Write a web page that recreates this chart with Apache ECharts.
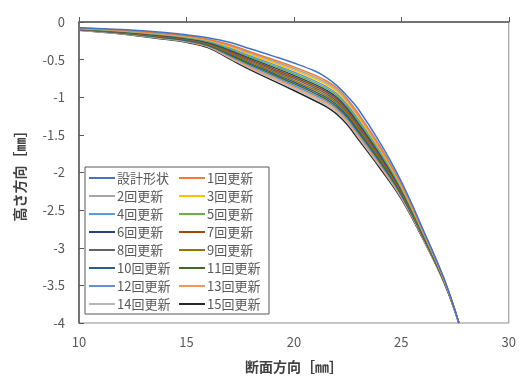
<!DOCTYPE html>
<html>
<head>
<meta charset="utf-8">
<script src="https://cdn.jsdelivr.net/npm/echarts@6/dist/echarts.min.js"></script>
<style>
  html, body { margin: 0; padding: 0; background: #fff; }
  #main { width: 519px; height: 379px; }
</style>
</head>
<body>
<div id="main"></div>
<script>
// 断面方向 (mm)
var xs = [10, 12, 14, 15, 16, 17, 18, 19, 20, 21, 21.5, 22, 22.5, 23, 24, 25, 26, 27, 27.68];

var names = ['設計形状', '1回更新', '2回更新', '3回更新', '4回更新', '5回更新', '6回更新', '7回更新',
  '8回更新', '9回更新', '10回更新', '11回更新', '12回更新', '13回更新', '14回更新', '15回更新'];

// 高さ方向 (mm)
var design = [-0.075, -0.100, -0.140, -0.170, -0.210, -0.270, -0.360, -0.450, -0.545, -0.655, -0.735, -0.845, -0.990, -1.160, -1.600, -2.120, -2.750, -3.420, -4];
var upd1  = [-0.080, -0.108, -0.153, -0.184, -0.228, -0.300, -0.399, -0.496, -0.596, -0.710, -0.781, -0.877, -1.026, -1.216, -1.648, -2.152, -2.768, -3.427, -4];
var upd2  = [-0.082, -0.112, -0.158, -0.190, -0.236, -0.314, -0.416, -0.515, -0.618, -0.734, -0.805, -0.901, -1.050, -1.240, -1.668, -2.166, -2.776, -3.430, -4];
var upd3  = [-0.084, -0.116, -0.163, -0.196, -0.244, -0.327, -0.433, -0.535, -0.640, -0.758, -0.829, -0.925, -1.074, -1.264, -1.688, -2.180, -2.784, -3.433, -4];
var upd4  = [-0.087, -0.120, -0.170, -0.203, -0.253, -0.343, -0.452, -0.557, -0.665, -0.785, -0.857, -0.954, -1.102, -1.292, -1.712, -2.196, -2.793, -3.437, -4];
var upd5  = [-0.089, -0.123, -0.175, -0.209, -0.261, -0.356, -0.469, -0.577, -0.687, -0.809, -0.881, -0.978, -1.126, -1.316, -1.733, -2.210, -2.801, -3.440, -4];
var upd6  = [-0.091, -0.127, -0.181, -0.215, -0.269, -0.369, -0.486, -0.596, -0.709, -0.833, -0.905, -1.002, -1.150, -1.340, -1.753, -2.224, -2.809, -3.443, -4];
var upd7  = [-0.093, -0.131, -0.186, -0.221, -0.276, -0.382, -0.503, -0.616, -0.731, -0.856, -0.929, -1.027, -1.174, -1.364, -1.773, -2.237, -2.816, -3.446, -4];
var upd8  = [-0.095, -0.134, -0.191, -0.227, -0.284, -0.395, -0.520, -0.635, -0.753, -0.880, -0.953, -1.051, -1.198, -1.388, -1.794, -2.251, -2.824, -3.449, -4];
var upd9  = [-0.097, -0.138, -0.197, -0.233, -0.292, -0.409, -0.536, -0.655, -0.775, -0.904, -0.977, -1.075, -1.222, -1.412, -1.814, -2.265, -2.832, -3.452, -4];
var upd10 = [-0.099, -0.141, -0.202, -0.239, -0.300, -0.422, -0.553, -0.674, -0.797, -0.928, -1.001, -1.099, -1.246, -1.436, -1.835, -2.279, -2.840, -3.455, -4];
var upd11 = [-0.101, -0.145, -0.208, -0.245, -0.308, -0.435, -0.570, -0.694, -0.819, -0.951, -1.025, -1.124, -1.270, -1.460, -1.855, -2.293, -2.848, -3.458, -4];
var upd12 = [-0.103, -0.149, -0.213, -0.251, -0.315, -0.448, -0.587, -0.713, -0.841, -0.975, -1.049, -1.148, -1.294, -1.484, -1.875, -2.306, -2.855, -3.461, -4];
var upd13 = [-0.105, -0.152, -0.218, -0.257, -0.323, -0.461, -0.604, -0.733, -0.863, -0.999, -1.073, -1.172, -1.318, -1.508, -1.896, -2.320, -2.863, -3.464, -4];
var upd14 = [-0.108, -0.156, -0.224, -0.263, -0.331, -0.475, -0.620, -0.752, -0.884, -1.022, -1.097, -1.197, -1.342, -1.532, -1.916, -2.334, -2.871, -3.467, -4];
var upd15 = [-0.110, -0.160, -0.230, -0.270, -0.340, -0.490, -0.640, -0.775, -0.910, -1.050, -1.125, -1.225, -1.370, -1.560, -1.940, -2.350, -2.880, -3.470, -4];

var ySeries = [design, upd1, upd2, upd3, upd4, upd5, upd6, upd7, upd8, upd9, upd10, upd11, upd12, upd13, upd14, upd15];

var colors = ['#4472C4', '#ED7D31', '#A5A5A5', '#FFC000', '#5B9BD5', '#70AD47', '#264478', '#9E480E',
  '#636363', '#997300', '#255E91', '#43682B', '#698ED0', '#F1975A', '#B7B7B7', '#262626'];

var chart = echarts.init(document.getElementById('main'));
var font = '"Noto Sans CJK JP", "Noto Sans", sans-serif';

var series = [];
for (var i = 0; i < names.length; i++) {
  var pts = [];
  for (var j = 0; j < xs.length; j++) pts.push([xs[j], ySeries[i][j]]);
  series.push({
    name: names[i],
    type: 'line',
    data: pts,
    smooth: 0.4,
    symbol: 'none',
    lineStyle: { width: 1.5, color: colors[i] },
    itemStyle: { color: colors[i] },
    z: 20 - i
  });
}

var option = {
  animation: false,
  textStyle: { fontFamily: font },
  grid: {
    left: 79, right: 6, top: 22, bottom: 55,
    show: true, borderColor: '#8c8c8c', borderWidth: 1
  },
  legend: {
    data: names,
    orient: 'horizontal',
    left: 85, top: 167,
    width: 178,
    itemGap: 4,
    itemWidth: 26,
    itemHeight: 2,
    icon: 'rect',
    padding: [4, 4, 3, 4],
    backgroundColor: '#fff',
    borderColor: '#595959',
    borderWidth: 1,
    textStyle: { fontSize: 13, color: '#595959', width: 58, padding: [0, 0, 0, -3], lineHeight: 14 },
    itemStyle: { borderWidth: 0 }
  },
  xAxis: {
    type: 'value',
    min: 10, max: 30, interval: 5,
    name: '断面方向［㎜］',
    nameLocation: 'middle',
    nameGap: 37,
    nameTextStyle: { fontSize: 14, fontWeight: 'bold', color: '#404040', fontFamily: font },
    axisLine: { lineStyle: { color: '#595959', width: 1.5 } },
    axisTick: { inside: true, length: 5, lineStyle: { color: '#595959' } },
    axisLabel: { fontSize: 13, color: '#595959', margin: 13 },
    splitLine: { show: false }
  },
  yAxis: {
    type: 'value',
    min: -4, max: 0, interval: 0.5,
    name: '高さ方向［㎜］',
    nameLocation: 'middle',
    nameGap: 52,
    nameTextStyle: { fontSize: 14, fontWeight: 'bold', color: '#404040', fontFamily: font },
    axisLine: { lineStyle: { color: '#595959', width: 1.5 } },
    axisTick: { inside: true, length: 5, lineStyle: { color: '#595959' } },
    axisLabel: { fontSize: 13, color: '#595959', margin: 14 },
    splitLine: { show: false }
  },
  series: series
};

chart.setOption(option);
</script>
</body>
</html>
